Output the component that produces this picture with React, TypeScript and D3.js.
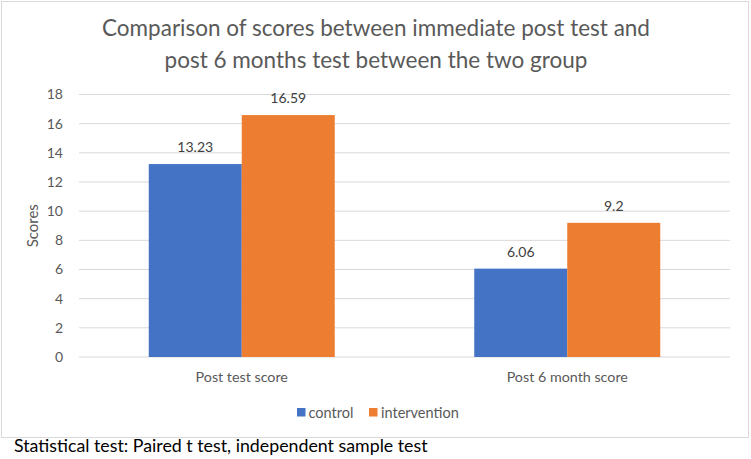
import React from 'react';
import { scaleBand, scaleLinear, range } from 'd3';

const categories = ['Post test score', 'Post 6 month score'];
const groups = ['control', 'intervention'];
const control = [13.23, 6.06];
const intervention = [16.59, 9.2];
const yTicks = [0, 2, 4, 6, 8, 10, 12, 14, 16, 18];
const colors = ['#4472c4', '#ed7d31'];

const W = 751;
const H = 459;
const font = 'Lato, "Open Sans", sans-serif';

const App = () => {
  const series = [control, intervention];

  const x = scaleBand<string>().domain(categories).range([79, 730]);
  const barW = x.bandwidth() / 3.5;
  const inner = scaleBand<string>().domain(groups).range([0, barW * 2]);

  const y = scaleLinear().domain([0, 18]).range([357, 94.5]);

  return (
    <svg width={W} height={H} style={{ position: 'absolute', left: 0, top: 0 }} fontFamily={font}>
      <rect x={0} y={0} width={W} height={H} fill="#fff" />
      <rect x={1.5} y={1.5} width={747} height={436} fill="#fff" stroke="#d9d9d9" strokeWidth={1} />

      {/* title */}
      <text x={376} y={36} textAnchor="middle" fontSize={22.5} fill="#595959">
        Comparison of scores between immediate post test and
      </text>
      <text x={376} y={68} textAnchor="middle" fontSize={22.5} fill="#595959">
        post 6 months test between the two group
      </text>

      {/* grid + y axis */}
      {yTicks.map(t => (
        <g key={t}>
          <line x1={79} x2={730} y1={y(t)} y2={y(t)} stroke="#d9d9d9" strokeWidth={1} />
          <text x={63} y={y(t)} dy="0.35em" textAnchor="end" fontSize={14} fill="#595959">
            {t}
          </text>
        </g>
      ))}
      <text
        transform={`translate(33, ${y(9)}) rotate(-90)`}
        textAnchor="middle"
        dy="0.35em"
        fontSize={15}
        fill="#595959"
      >
        Scores
      </text>

      {/* bars */}
      {categories.map((c, ci) => {
        const x0 = (x(c) as number) + (x.bandwidth() - barW * 2) / 2;
        return (
          <g key={c}>
            {range(groups.length).map(gi => {
              const v = series[gi][ci];
              const bx = x0 + (inner(groups[gi]) as number);
              return (
                <g key={gi}>
                  <rect x={bx} y={y(v)} width={barW} height={y(0) - y(v)} fill={colors[gi]} />
                  <text x={bx + barW / 2} y={y(v) - 12} textAnchor="middle" fontSize={14} fill="#404040">
                    {v}
                  </text>
                </g>
              );
            })}
            <text x={(x(c) as number) + x.bandwidth() / 2} y={382} textAnchor="middle" fontSize={14.3} fill="#595959">
              {c}
            </text>
          </g>
        );
      })}

      {/* legend */}
      <rect x={297} y={408} width={8.5} height={8.5} fill={colors[0]} />
      <text x={308.5} y={412.5} dy="0.35em" fontSize={14.5} fill="#595959">
        {groups[0]}
      </text>
      <rect x={369} y={408} width={8.5} height={8.5} fill={colors[1]} />
      <text x={381} y={412.5} dy="0.35em" fontSize={14.5} fill="#595959">
        {groups[1]}
      </text>

      <text x={14} y={452} fontSize={17.8} fill="#000">
        Statistical test: Paired t test, independent sample test
      </text>
    </svg>
  );
};

export default App;
